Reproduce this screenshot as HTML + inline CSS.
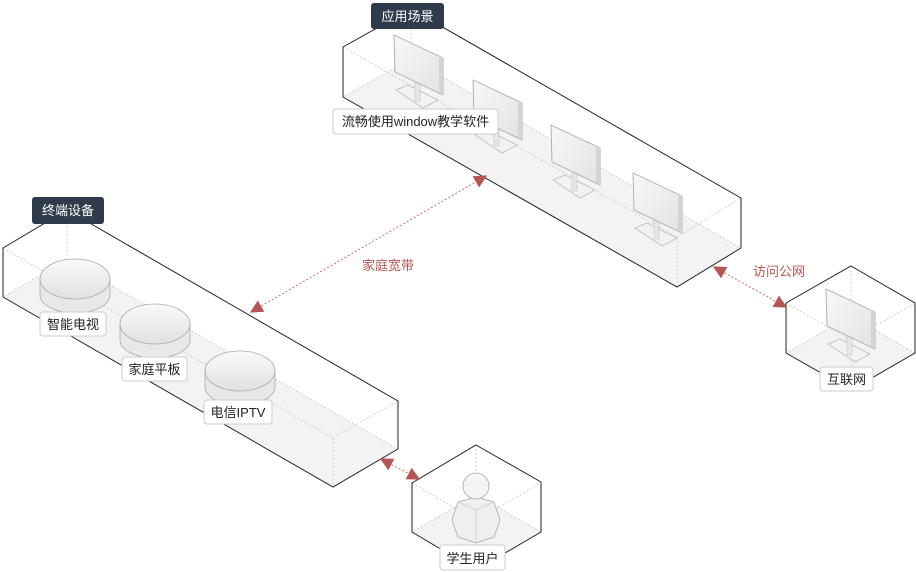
<!DOCTYPE html>
<html><head><meta charset="utf-8"><style>
html,body{margin:0;padding:0;background:#fff;}
svg{display:block;font-family:"Liberation Sans","Noto Sans CJK SC",sans-serif;}
</style></head><body>
<svg width="916" height="572" viewBox="0 0 916 572" xmlns="http://www.w3.org/2000/svg">
<defs>
<linearGradient id="scr" x1="0" y1="0" x2="1" y2="1"><stop offset="0" stop-color="#f8f8f8"/><stop offset="1" stop-color="#e2e2e2"/></linearGradient>
<linearGradient id="disc" x1="0" y1="0" x2="0" y2="1"><stop offset="0" stop-color="#fafafa"/><stop offset="1" stop-color="#e0e0e0"/></linearGradient>
<marker id="ar" viewBox="0 0 10 10" refX="9" refY="5" markerWidth="17" markerHeight="13" markerUnits="userSpaceOnUse" orient="auto-start-reverse"><path d="M0,0 L10,5 L0,10 z" fill="#b65555"/></marker>
<g id="mon">
<polygon points="2,55 14,50 44,65 29,73" fill="#f2f2f2" stroke="#bbb" stroke-width="0.8"/>
<rect x="21" y="44" width="5" height="22" fill="#e6e6e6" stroke="#c4c4c4" stroke-width="0.6"/>
<polygon points="0,0 49,23 49,60 1,37" fill="url(#scr)" stroke="#aaa" stroke-width="0.9"/>
<polygon points="45,21 49,23 49,60 45,58" fill="#d4d4d4"/>
</g>
<g id="dsc">
<path d="M-35,0 L-35,16 A35,18 0 0 0 35,16 L35,0 Z" fill="#e8e8e8" stroke="#aaa" stroke-width="0.8"/>
<ellipse cx="0" cy="0" rx="35" ry="20" fill="url(#disc)" stroke="#aaa" stroke-width="0.8"/>
</g>
</defs>

<polygon points="343,97 411,59 741,248 677,287" fill="#f3f3f3"/>
<g stroke="#c8c8c8" stroke-width="0.8" stroke-dasharray="2,2" fill="none">
<path d="M343,47 L677,237 L741,198 M677,237 L677,287 M411,9 L411,59 L343,97 M411,59 L741,248"/>
</g>
<polygon points="343,47 411,9 741,198 741,248 677,287 343,97" fill="none" stroke="#222" stroke-width="1"/>

<polygon points="3,297 67,260 398,449 333,487" fill="#f3f3f3"/>
<g stroke="#c8c8c8" stroke-width="0.8" stroke-dasharray="2,2" fill="none">
<path d="M3,248 L333,438 L398,401 M333,438 L333,487 M67,210 L67,260 L3,297 M67,260 L398,449"/>
</g>
<polygon points="3,248 67,210 398,401 398,449 333,487 3,297" fill="none" stroke="#222" stroke-width="1"/>

<polygon points="412,532 476,495 541,532 476,570" fill="#f3f3f3"/>
<g stroke="#c8c8c8" stroke-width="0.8" stroke-dasharray="2,2" fill="none">
<path d="M412,483 L476,520 L541,483 M476,520 L476,570 M476,445 L476,495 L412,532 M476,495 L541,532"/>
</g>
<polygon points="476,445 541,482 541,532 476,570 412,532 412,483" fill="none" stroke="#222" stroke-width="1"/>

<polygon points="786,353 851,316 915,353 851,390" fill="#f3f3f3"/>
<g stroke="#c8c8c8" stroke-width="0.8" stroke-dasharray="2,2" fill="none">
<path d="M786,303 L851,340 L915,303 M851,340 L851,390 M851,266 L851,316 L786,353 M851,316 L915,353"/>
</g>
<polygon points="851,266 915,303 915,353 851,390 786,353 786,303" fill="none" stroke="#222" stroke-width="1"/>

<use href="#mon" x="394" y="35"/>
<use href="#mon" x="473" y="80"/>
<use href="#mon" x="551" y="125"/>
<use href="#mon" x="633" y="173"/>
<use href="#mon" x="826" y="289"/>

<use href="#dsc" x="75" y="279"/>
<use href="#dsc" x="155" y="324"/>
<use href="#dsc" x="240" y="371"/>

<g>
<polygon points="452,520 458,502 476,497 494,502 500,520 494,537 476,543 458,537" fill="#efefef" stroke="#aaa" stroke-width="0.8"/>
<path d="M458,502 L476,510 L494,502 M476,510 L476,543" stroke="#ccc" stroke-width="0.7" fill="none"/>
<circle cx="476" cy="486" r="13" fill="#f4f4f4" stroke="#aaa" stroke-width="0.8"/>
</g>

<g stroke="#c97070" stroke-width="1" stroke-dasharray="2,2" fill="none">
<line x1="251" y1="312" x2="486" y2="176" marker-start="url(#ar)" marker-end="url(#ar)"/>
<line x1="714" y1="267" x2="786" y2="307" marker-start="url(#ar)" marker-end="url(#ar)"/>
<line x1="381" y1="459" x2="419" y2="479" marker-start="url(#ar)" marker-end="url(#ar)"/>
</g>
<text x="362" y="270" font-size="13" fill="#b65555">家庭宽带</text>
<text x="753" y="276" font-size="13" fill="#b65555">访问公网</text>

<rect x="371" y="3" width="73" height="26" rx="3" fill="#2f3a4a"/>
<text x="407.5" y="21" font-size="13" fill="#fff" text-anchor="middle">应用场景</text>
<rect x="32" y="197" width="72" height="27" rx="3" fill="#2f3a4a"/>
<text x="68" y="215" font-size="13" fill="#fff" text-anchor="middle">终端设备</text>

<g font-size="13" fill="#222" text-anchor="middle">
<rect x="333" y="109" width="165" height="25" rx="3" fill="#fff" stroke="#ccc"/>
<text x="415.5" y="126">流畅使用window教学软件</text>
<rect x="40" y="312" width="66" height="24" rx="3" fill="#fff" stroke="#ccc"/>
<text x="73" y="329">智能电视</text>
<rect x="122" y="357" width="65" height="24" rx="3" fill="#fff" stroke="#ccc"/>
<text x="154.5" y="374">家庭平板</text>
<rect x="204" y="400" width="68" height="24" rx="3" fill="#fff" stroke="#ccc"/>
<text x="238" y="417">电信IPTV</text>
<rect x="440" y="545" width="65" height="25" rx="3" fill="#fff" stroke="#ccc"/>
<text x="472.5" y="563">学生用户</text>
<rect x="820" y="367" width="53" height="24" rx="3" fill="#fff" stroke="#ccc"/>
<text x="846.5" y="384">互联网</text>
</g>
</svg>
</body></html>
